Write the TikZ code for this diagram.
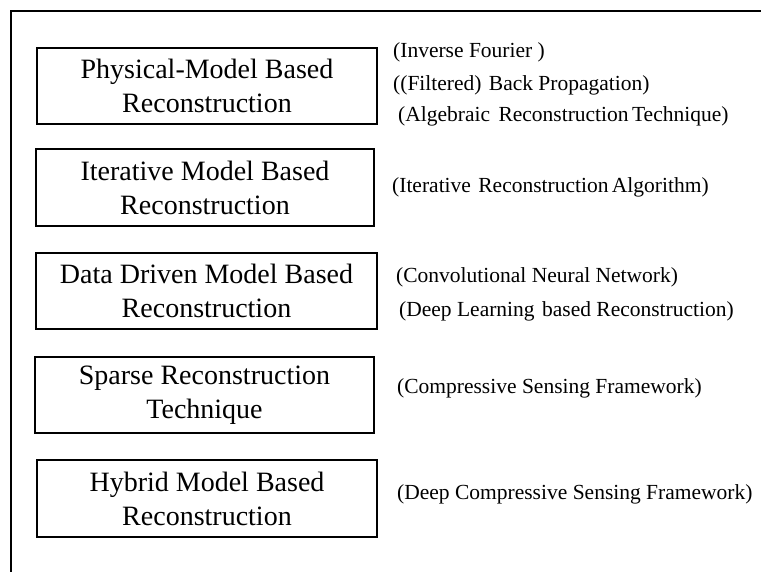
\documentclass[tikz,border=0pt]{standalone}
\usepackage{fontspec}
\setmainfont{Liberation Serif}
\begin{document}
\begin{tikzpicture}[x=1pt,y=-1pt,
  box/.style={draw, line width=1.1pt, rectangle, inner sep=0pt, align=center,
    font=\fontsize{28}{34}\selectfont},
  note/.style={anchor=west, inner sep=0pt, font=\fontsize{21.5}{24}\selectfont}]
\useasboundingbox (0,0) rectangle (761,572);
\draw[line width=1.5pt] (11,572) -- (11,11) -- (761,11);
\node[box, minimum width=340pt, minimum height=76pt] (b1) at (207,86) {Physical-Model Based\\Reconstruction};
\node[box, minimum width=338pt, minimum height=77pt] (b2) at (205,187.5) {Iterative Model Based\\Reconstruction};
\node[box, minimum width=341pt, minimum height=76pt] (b3) at (206.5,291) {Data Driven Model Based\\Reconstruction};
\node[box, minimum width=339pt, minimum height=76pt] (b4) at (204.5,395) {Sparse Reconstruction\\Technique};
\node[box, minimum width=340pt, minimum height=77pt] (b5) at (207,498.5) {Hybrid Model Based\\Reconstruction};
\node[note] (t1) at (393,52) {(Inverse Fourier )};
\node[note] (t2) at (393,85) {((Filtered)\hspace{2pt} Back Propagation)};
\node[note] (t3) at (398,116) {(Algebraic\hspace{3pt} Reconstruction\hspace{-2pt} Technique)};
\node[note] (t4) at (392,187) {(Iterative\hspace{2pt} Reconstruction\hspace{-2pt} Algorithm)};
\node[note] (t5) at (396,277) {(Convolutional Neural Network)};
\node[note] (t6) at (399,311) {(Deep Learning\hspace{2pt} based Reconstruction)};
\node[note] (t7) at (397,388) {(Compressive Sensing Framework)};
\node[note] (t8) at (397,494) {(Deep Compressive Sensing Framework)};
\end{tikzpicture}
\end{document}
